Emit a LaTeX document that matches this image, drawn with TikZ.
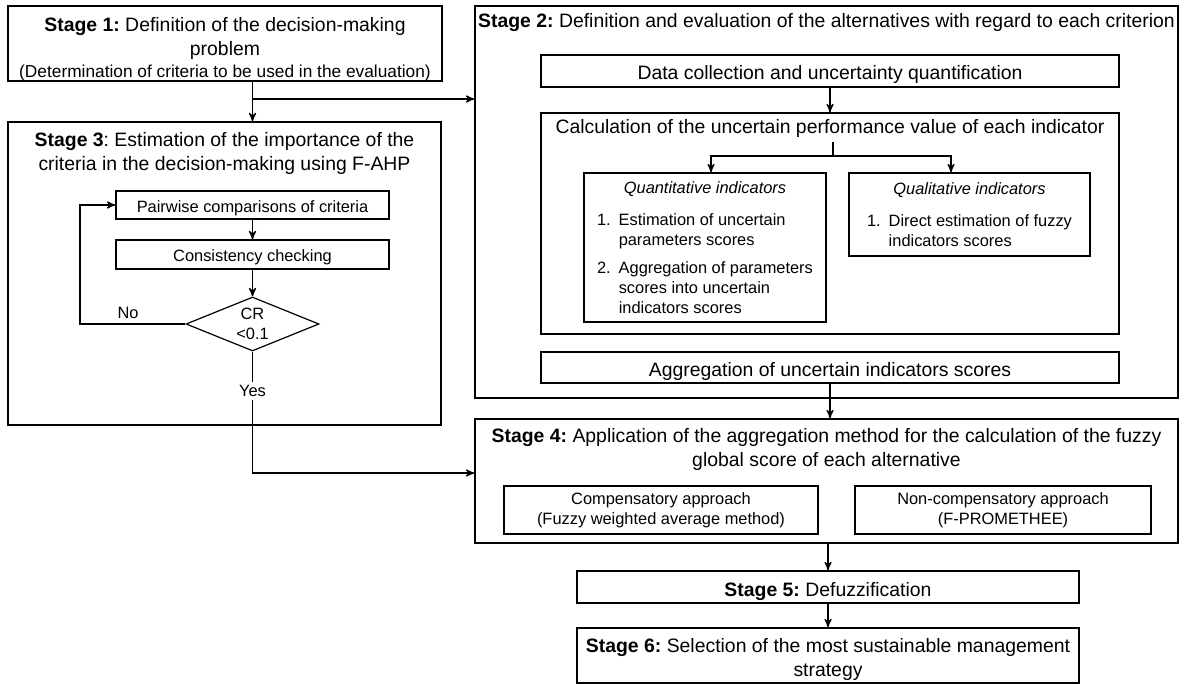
\documentclass[tikz,border=0pt]{standalone}
\usepackage{fontspec}
\setmainfont{Liberation Sans}
\usetikzlibrary{arrows}
\usetikzlibrary{shapes.geometric}
\newcommand{\bigfont}{\fontsize{9.7}{12}\selectfont\frenchspacing}
\newcommand{\smallfont}{\fontsize{8.2}{10}\selectfont\frenchspacing}
\newcommand{\topgap}[1]{\rule{0pt}{#1}}

\begin{document}
\begin{tikzpicture}[x=0.5pt,y=-0.5pt,->,>=stealth',line width=0.6pt,
    stage node/.style={rectangle,draw,-,align=center,font=\bigfont,inner sep=0pt},
    one line/.style={text height=9pt,text depth=0pt},
    box node/.style={rectangle,draw,-,align=center,font=\smallfont,inner sep=0pt},
    small line/.style={text height=7.2pt,text depth=0pt},
    title node/.style={align=center,font=\bigfont,inner sep=2pt},
    label node/.style={font=\smallfont,inner sep=1.5pt},
    check node/.style={diamond,draw,-,align=center,font=\smallfont,inner sep=0pt,shape aspect=2.46}]
    \useasboundingbox (0,0) rectangle (1184,684);

    % stage 1 and stage 3
    \node[stage node,minimum width=217pt,minimum height=37.5pt] (s1) at (225,43.5) {};
    \node[title node] (s1title) at (225,49) {\textbf{Stage 1:} Definition of the decision-making\\problem\\[-1pt]{\fontsize{8.65}{11}\selectfont (Determination of criteria to be used in the evaluation)}};
    \node[stage node,minimum width=216.5pt,minimum height=151.5pt] (s3) at (224.5,273.5) {};
    \node[title node] (s3title) at (224.5,153) {\textbf{Stage 3}: Estimation of the importance of the\\criteria in the decision-making using F-AHP};
    \node[box node,small line,minimum width=136.5pt,minimum height=14pt] (pw) at (252.5,205) {Pairwise comparisons of criteria};
    \node[box node,small line,minimum width=136.5pt,minimum height=14.5pt] (cc) at (252.5,254.5) {Consistency checking};
    \node[check node,minimum width=66.5pt,minimum height=27pt] (cr) at (252.5,324) {CR\\<0.1};
    \node[label node] (no) at (128,313) {No};
    \node[label node] (yes) at (252.5,391) {Yes};
    \coordinate (noturn) at (80,324);
    \coordinate (yesturn) at (252.5,473);
    \coordinate (split1) at (252.5,99);

    % stage 2
    \node[stage node,minimum width=351.5pt,minimum height=196pt] (s2) at (826.5,202) {};
    \node[title node] (s2title) at (826.5,23) {\textbf{Stage 2:} Definition and evaluation of the alternatives with regard to each criterion};
    \node[stage node,one line,minimum width=289pt,minimum height=16pt] (data) at (830,71) {Data collection and uncertainty quantification};
    \node[stage node,minimum width=289pt,minimum height=110.5pt] (calc) at (830,223.5) {};
    \node[title node] (calctitle) at (830,128) {Calculation of the uncertain performance value of each indicator};
    \coordinate (split2) at (833,156);
    \node[box node,minimum width=121pt,minimum height=74.5pt] (quant) at (705,247.5) {%
      \begin{tabular}{@{}l@{\hspace{4pt}}l@{}}
        \multicolumn{2}{c}{\topgap{9.5pt}\itshape Quantitative indicators}\\[6pt]
        1. & Estimation of uncertain\\
           & parameters scores\\[4pt]
        2. & Aggregation of parameters\\
           & scores into uncertain\\
           & indicators scores
      \end{tabular}};
    \node[box node,minimum width=120.5pt,minimum height=41.5pt] (qual) at (969.5,214.5) {%
      \begin{tabular}{@{}l@{\hspace{4pt}}l@{}}
        \multicolumn{2}{c}{\topgap{9.5pt}\itshape Qualitative indicators}\\[6pt]
        1. & Direct estimation of fuzzy\\
           & indicators scores
      \end{tabular}};
    \node[stage node,one line,minimum width=289pt,minimum height=15.5pt] (agg) at (830,367.5) {Aggregation of uncertain indicators scores};

    % stage 4, 5 and 6
    \node[stage node,minimum width=351.5pt,minimum height=62pt] (s4) at (826.5,481) {};
    \node[title node] (s4title) at (826.5,449) {\textbf{Stage 4:} Application of the aggregation method for the calculation of the fuzzy\\global score of each alternative};
    \node[box node,minimum width=157pt,minimum height=24pt] (comp) at (661,510) {Compensatory approach\\(Fuzzy weighted average method)};
    \node[box node,minimum width=148pt,minimum height=24pt] (ncomp) at (1003,510) {Non-compensatory approach\\(F-PROMETHEE)};
    \node[stage node,one line,minimum width=251pt,minimum height=16pt] (s5) at (828,587) {\textbf{Stage 5:} Defuzzification};
    \node[stage node,minimum width=251pt,minimum height=27.5pt] (s6) at (828,655.5) {\topgap{11pt}\textbf{Stage 6:} Selection of the most sustainable management\\strategy};

    % connectors
    \draw (s1.south -| pw) -- (s3.north -| pw);
    \draw (split1) -- (split1 -| s2.west);
    \path (pw) edge (cc);
    \path (cc) edge (cr);
    \draw (cr.west) -- (noturn) |- (pw.west);
    \draw[-] (cr.south) -- (yes.north);
    \draw (yes.south) -- (yesturn) -- (yesturn -| s4.west);
    \path (data) edge (calc);
    \draw[-] (calctitle.south -| split2) -- (split2);
    \draw (split2) -| ([xshift=3pt]quant.north);
    \draw (split2) -| ([xshift=-9.25pt]qual.north);
    \draw (agg.south) -- (agg.south |- s4.north);
    \draw (s4.south -| s5) -- (s5.north);
    \path (s5) edge (s6);
\end{tikzpicture}
\end{document}
